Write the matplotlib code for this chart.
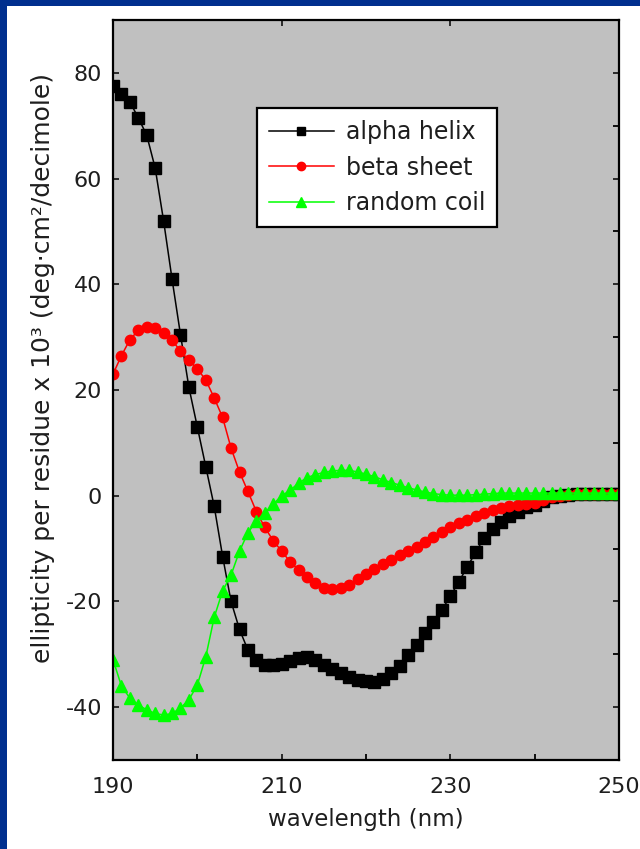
import numpy as np
import matplotlib.pyplot as plt
from matplotlib.patches import Rectangle

wavelength = np.arange(190, 251)

alpha_helix = [
    77.5, 76.0, 74.5, 71.5, 68.2, 62.0, 52.0, 41.0, 30.5, 20.5,
    13.0, 5.5, -2.0, -11.5, -20.0, -25.3, -29.2, -31.0, -32.0, -32.0,
    -31.8, -31.3, -30.7, -30.5, -31.0, -32.0, -32.8, -33.6, -34.3, -34.8,
    -35.1, -35.2, -34.6, -33.6, -32.2, -30.2, -28.2, -26.0, -23.8, -21.6,
    -19.0, -16.3, -13.5, -10.7, -8.0, -6.3, -5.0, -3.8, -3.0, -2.2,
    -1.8, -1.0, -0.3, 0.0, 0.2, 0.3, 0.3, 0.3, 0.3, 0.3,
    0.3,
]

beta_sheet = [
    23.0, 26.5, 29.5, 31.3, 32.0, 31.8, 30.8, 29.4, 27.4, 25.6,
    24.0, 21.9, 18.5, 14.8, 9.0, 4.5, 0.8, -3.0, -6.0, -8.5,
    -10.5, -12.5, -14.0, -15.3, -16.6, -17.4, -17.7, -17.4, -16.8, -15.8,
    -14.8, -13.9, -13.0, -12.2, -11.3, -10.5, -9.7, -8.8, -7.9, -6.8,
    -5.9, -5.2, -4.6, -3.9, -3.2, -2.7, -2.3, -2.0, -1.7, -1.5,
    -1.3, -0.8, -0.3, 0.0, 0.2, 0.3, 0.3, 0.3, 0.3, 0.3,
    0.3,
]

random_coil = [
    -31.0, -36.0, -38.3, -39.6, -40.5, -41.2, -41.5, -41.2, -40.2, -38.6,
    -35.8, -30.5, -23.0, -18.0, -15.0, -10.5, -7.0, -4.8, -3.2, -1.6,
    0.0, 1.0, 2.4, 3.4, 4.0, 4.4, 4.7, 4.8, 4.8, 4.5,
    4.1, 3.6, 3.0, 2.5, 2.0, 1.5, 1.1, 0.7, 0.4, 0.2,
    0.1, 0.1, 0.1, 0.2, 0.3, 0.4, 0.5, 0.5, 0.5, 0.5,
    0.5, 0.5, 0.5, 0.5, 0.5, 0.5, 0.5, 0.5, 0.5, 0.5,
    0.5,
]

plt.rcParams["font.family"] = ["DejaVu Sans"]
plt.rcParams["axes.unicode_minus"] = False
text_color = "#1e1e1e"

fig = plt.figure(figsize=(6.4, 8.49), dpi=100)
fig.patch.set_facecolor("white")

# blue slide frame (left and top)
fig.patches.append(Rectangle((0, 0), 7 / 640, 1, transform=fig.transFigure,
                             facecolor="#002f8e", edgecolor="none", zorder=0))
fig.patches.append(Rectangle((0, 1 - 6 / 849), 1, 6 / 849, transform=fig.transFigure,
                             facecolor="#002f8e", edgecolor="none", zorder=0))

ax = fig.add_axes([113 / 640, 89 / 849, 506 / 640, 740 / 849])
ax.set_facecolor("#c0c0c0")

ax.plot(wavelength, alpha_helix, color="black", marker="s", markersize=8,
        linewidth=1.1, label="alpha helix")
ax.plot(wavelength, beta_sheet, color="#ff0000", marker="o", markersize=7.5,
        linewidth=1.1, label="beta sheet")
ax.plot(wavelength, random_coil, color="#00ff00", marker="^", markersize=9,
        linewidth=1.1, label="random coil")

ax.set_xlim(190, 250)
ax.set_ylim(-50, 90)
ax.set_xticks([190, 210, 230, 250])
ax.set_xticks([200, 220, 240], minor=True)
ax.set_yticks([-40, -20, 0, 20, 40, 60, 80])
ax.set_yticks(np.arange(-50, 91, 10), minor=True)

ax.tick_params(which="major", direction="in", length=4, width=1.3,
               top=True, right=True, labelsize=16, colors=text_color)
ax.tick_params(axis="x", which="major", pad=12)
ax.tick_params(axis="y", which="major", pad=8)
ax.tick_params(which="minor", direction="in", length=4, width=1.3,
               top=False, left=False, right=True, bottom=True)
for spine in ax.spines.values():
    spine.set_linewidth(1.6)

ax.set_xlabel("wavelength (nm)", fontsize=16.5, color=text_color, labelpad=8)
ax.set_ylabel("ellipticity per residue x 10³ (deg·cm²/decimole)",
              fontsize=18, color=text_color)
ax.yaxis.set_label_coords(-0.115, 0.53)

leg = ax.legend(loc="upper left", bbox_to_anchor=(0.285, 0.881),
                borderaxespad=0, fontsize=17, frameon=True, fancybox=False,
                framealpha=1, edgecolor="black", handlelength=2.75,
                handletextpad=0.5, labelspacing=0.5, borderpad=0.5,
                markerscale=0.8)
leg.get_frame().set_linewidth(1.6)
for t in leg.get_texts():
    t.set_color(text_color)

fig.savefig("out.png", dpi=100)
